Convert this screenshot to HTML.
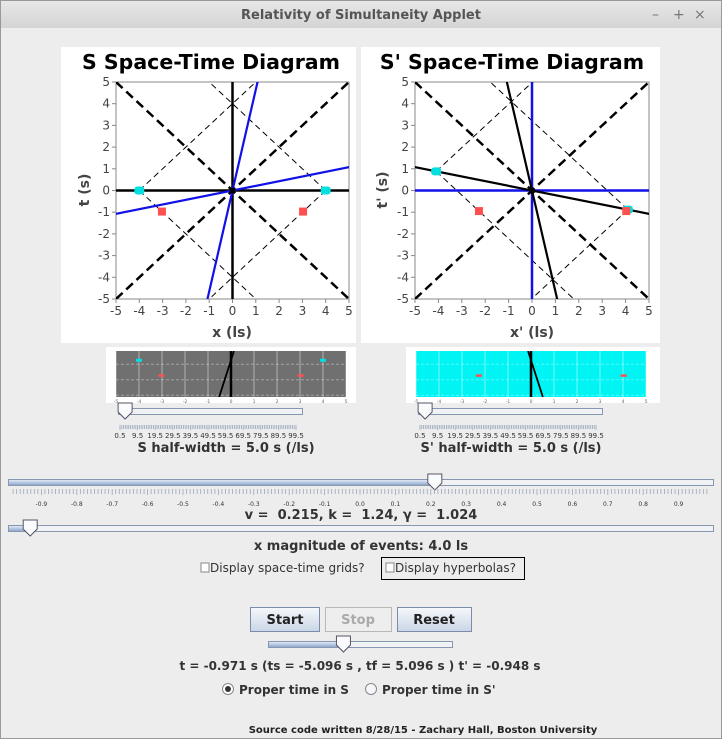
<!DOCTYPE html>
<html><head><meta charset="utf-8">
<style>
html,body{margin:0;padding:0;background:#ededed;}
svg{display:block;font-family:"DejaVu Sans","Liberation Sans",sans-serif;}
</style></head>
<body>
<svg id="root" width="722" height="739" viewBox="0 0 722 739" xmlns="http://www.w3.org/2000/svg">
<defs>
<linearGradient id="tb" x1="0" y1="0" x2="0" y2="1"><stop offset="0" stop-color="#e8e8e8"/><stop offset="1" stop-color="#d4d4d4"/></linearGradient>
<linearGradient id="btn" x1="0" y1="0" x2="0" y2="1"><stop offset="0" stop-color="#f6f8fb"/><stop offset="1" stop-color="#c9d6e6"/></linearGradient>
<linearGradient id="fill" x1="0" y1="0" x2="0" y2="1"><stop offset="0" stop-color="#dfe8f4"/><stop offset="1" stop-color="#90a8cc"/></linearGradient>
<clipPath id="clipS"><rect x="116" y="82" width="233" height="217"/></clipPath>
<clipPath id="clipP"><rect x="415" y="82" width="234" height="217"/></clipPath>
<clipPath id="clipTS"><rect x="116" y="351" width="230" height="46"/></clipPath>
<clipPath id="clipTP"><rect x="416" y="351" width="230" height="46"/></clipPath>
</defs>
<rect x="0" y="0" width="722" height="739" fill="#ededed"/>
<rect x="0" y="0" width="722" height="28" fill="url(#tb)"/>
<text x="361" y="19" text-anchor="middle" font-size="13" font-weight="bold" fill="#555">Relativity of Simultaneity Applet</text>
<text x="652" y="19" font-size="14" fill="#777">–</text>
<text x="673" y="19" font-size="14" fill="#777">+</text>
<text x="694" y="19" font-size="14" fill="#777">×</text>
<rect x="0.5" y="0.5" width="721" height="738" fill="none" stroke="#999"/>

<rect x="61" y="47" width="295" height="296" fill="#fff"/>
<rect x="361" y="47" width="299" height="296" fill="#fff"/>
<text x="211" y="69" text-anchor="middle" font-size="20.5" font-weight="bold" fill="#000">S Space-Time Diagram</text>
<text x="512" y="69" text-anchor="middle" font-size="20.5" font-weight="bold" fill="#000">S' Space-Time Diagram</text>
<text x="232" y="337" text-anchor="middle" font-size="14" font-weight="bold" fill="#444">x (ls)</text>
<text x="532" y="337" text-anchor="middle" font-size="14" font-weight="bold" fill="#444">x' (ls)</text>
<text transform="translate(89,190) rotate(-90)" text-anchor="middle" font-size="14" font-weight="bold" fill="#444">t (s)</text>
<text transform="translate(387,190) rotate(-90)" text-anchor="middle" font-size="14" font-weight="bold" fill="#444">t' (s)</text>
<g id="chartS"></g>
<g id="chartP"></g>

<rect x="106" y="347" width="250" height="56" fill="#fff"/>
<rect x="406" y="347" width="254" height="56" fill="#fff"/>
<g id="thumbS"></g>
<g id="thumbP"></g>

<g id="sliders"></g>

<text x="226" y="452" text-anchor="middle" font-size="13" font-weight="bold" fill="#333">S half-width = 5.0 s (/ls)</text>
<text x="511" y="452" text-anchor="middle" font-size="13" font-weight="bold" fill="#333">S' half-width = 5.0 s (/ls)</text>
<text x="361" y="519" text-anchor="middle" font-size="13" font-weight="bold" fill="#333" xml:space="preserve">v =  0.215, k =  1.24, γ =  1.024</text>
<text x="361" y="550" text-anchor="middle" font-size="13" font-weight="bold" fill="#333">x magnitude of events: 4.0 ls</text>

<g>
<rect x="201" y="563" width="8" height="9" fill="#fff" stroke="#888"/>
<text x="210" y="572" font-size="12" fill="#333">Display space-time grids?</text></g>
<g>
<rect x="381.5" y="557.5" width="143" height="22" fill="none" stroke="#000"/>
<rect x="386" y="563" width="8" height="9" fill="#fff" stroke="#888"/>
<text x="395" y="572" font-size="12" fill="#333">Display hyperbolas?</text></g>

<g><rect x="250.5" y="607.5" width="69" height="24" fill="url(#btn)" stroke="#7a8ca8"/><text x="285" y="624" text-anchor="middle" font-size="13" font-weight="bold" fill="#222">Start</text></g>
<g><rect x="325.5" y="607.5" width="66" height="24" fill="#eeeeee" stroke="#b8b8b8"/><text x="358" y="624" text-anchor="middle" font-size="13" font-weight="bold" fill="#aaa">Stop</text></g>
<g><rect x="397.5" y="607.5" width="74" height="24" fill="url(#btn)" stroke="#7a8ca8"/><text x="434" y="624" text-anchor="middle" font-size="13" font-weight="bold" fill="#222">Reset</text></g>

<text x="360" y="670" text-anchor="middle" font-size="12" font-weight="bold" fill="#333">t = -0.971 s (ts = -5.096 s , tf = 5.096 s ) t' = -0.948 s</text>
<g><circle cx="228" cy="689" r="5.5" fill="#fff" stroke="#888"/><circle cx="228" cy="689" r="3" fill="#333"/><text x="239" y="694" font-size="12" font-weight="bold" fill="#333">Proper time in S</text></g>
<g><circle cx="371" cy="689" r="5.5" fill="#f4f6fa" stroke="#888"/><text x="382" y="694" font-size="12" font-weight="bold" fill="#333">Proper time in S'</text></g>
<text x="423" y="733" text-anchor="middle" font-size="10" font-weight="bold" fill="#222">Source code written 8/28/15 - Zachary Hall, Boston University</text>
</svg>
<script>
// ---- data ----
const tickValues = [-5,-4,-3,-2,-1,0,1,2,3,4,5];
const velocity = 0.215;
const eventX = [-4, 4];
const eventT = [0, 0];
const currentT = -0.971;
const currentTPrime = -0.948;
const vTickLabels = ["-0.9","-0.8","-0.7","-0.6","-0.5","-0.4","-0.3","-0.2","-0.1","0.0","0.1","0.2","0.3","0.4","0.5","0.6","0.7","0.8","0.9"];
const halfWidthLabels = ["0.5","9.5","19.5","29.5","39.5","49.5","59.5","69.5","79.5","89.5","99.5"];
const halfWidthValue = 5.0;
const xMagnitude = 4.0;
const animFraction = 0.41;

const NS = "http://www.w3.org/2000/svg";
function mk(parent, tag, attrs){const e=document.createElementNS(NS,tag);for(const k in attrs)e.setAttribute(k,attrs[k]);parent.appendChild(e);return e;}
const gamma = 1/Math.sqrt(1-velocity*velocity);

function drawDiagram(g, x0, x1, y0, y1, clip, boost, lineVel, axisColor, frameColor, tNow){
  const sx = x => x0 + (x+5)*(x1-x0)/10;
  const sy = t => y1 - (t+5)*(y1-y0)/10;
  const gm = 1/Math.sqrt(1-boost*boost);
  const ex = eventX.map((x,i)=>gm*(x-boost*eventT[i]));
  const et = eventT.map((t,i)=>gm*(t-boost*eventX[i]));
  const ln = (xa,ta,xb,tb,st)=>mk(g,'line',Object.assign({x1:sx(xa),y1:sy(ta),x2:sx(xb),y2:sy(tb),'clip-path':'url(#'+clip+')'},st));
  const fr = mk(g,'rect',{x:x0,y:y0,width:x1-x0,height:y1-y0,fill:'#fff',stroke:'#888'});
   
  tickValues.forEach(v=>{
    const a=mk(g,'line',{x1:sx(v),y1:y1,x2:sx(v),y2:y1+4,stroke:'#888'});
     
    const b=mk(g,'line',{x1:x0-4,y1:sy(v),x2:x0,y2:sy(v),stroke:'#888'});
     
    const tx=mk(g,'text',{x:sx(v),y:y1+16,'text-anchor':'middle','font-size':12,fill:'#444'}); tx.textContent=v;
     
    const ty=mk(g,'text',{x:x0-6,y:sy(v)+4,'text-anchor':'end','font-size':12,fill:'#444'}); ty.textContent=v;
     
  });
  let l=ln(-5,-5,5,5,{stroke:'#000','stroke-width':2.5,'stroke-dasharray':'9,5'});  
  l=ln(-5,5,5,-5,{stroke:'#000','stroke-width':2.5,'stroke-dasharray':'9,5'});  
  ex.forEach((x,i)=>{
    const t=et[i], d = x<0?1:-1;
    let r=ln(x,t,x+d*12,t+12,{stroke:'#000','stroke-width':1,'stroke-dasharray':'6,4'});  
    r=ln(x,t,x+d*12,t-12,{stroke:'#000','stroke-width':1,'stroke-dasharray':'6,4'});  
  });
  l=ln(-5,0,5,0,{stroke:axisColor,'stroke-width':2.5});  
  l=ln(0,-5,0,5,{stroke:axisColor,'stroke-width':2.5});  
  l=ln(-8*lineVel,-8,8*lineVel,8,{stroke:frameColor,'stroke-width':2.2});  
  l=ln(-8,-8*lineVel,8,8*lineVel,{stroke:frameColor,'stroke-width':2.2});  
  ex.forEach((x,i)=>{
    const c=mk(g,'rect',{x:sx(x)-5,y:sy(et[i])-4,width:10,height:8,rx:3,fill:'#00e0e0'});
     
    const d = x<0?1:-1;
    const px = x + d*Math.abs(tNow-et[i]);
    const r=mk(g,'rect',{x:sx(px)-4,y:sy(tNow)-4,width:8,height:8,fill:'#ff5050'});
     
  });
  const o=mk(g,'circle',{cx:sx(0),cy:sy(0),r:3,fill:'#000'});  
}
drawDiagram(document.getElementById('chartS'),116,349,82,299,'clipS',0,velocity,'#000','#1010e8',currentT);
drawDiagram(document.getElementById('chartP'),415,649,82,299,'clipP',velocity,-velocity,'#1010e8','#000',currentTPrime);

function drawThumb(g, x0, x1, y0, y1, clip, bg, boost, lineVel, tNow, showEvents){
  const sx = x => x0 + (x+5)*(x1-x0)/10;
  const sy = t => y0 + (0.6 - t)*15.5;
  const r=mk(g,'rect',{x:x0,y:y0,width:x1-x0,height:y1-y0,fill:bg});  
  tickValues.forEach(v=>{
    const gl=mk(g,'line',{x1:sx(v),y1:y0,x2:sx(v),y2:y1,stroke:'#fff','stroke-opacity':0.45,'stroke-width':1});  
    const tl=mk(g,'text',{x:sx(v),y:y1+6,'text-anchor':'middle','font-size':4.5,fill:'#666'}); tl.textContent=v;
     
  });
  [0,-1,-2].forEach(t=>{const gl=mk(g,'line',{x1:x0,y1:sy(t)+4,x2:x1,y2:sy(t)+4,stroke:'#fff','stroke-opacity':0.35,'stroke-dasharray':'3,2'});});
  const gm = 1/Math.sqrt(1-boost*boost);
  const ex = eventX.map((x,i)=>gm*(x-boost*eventT[i]));
  const et = eventT.map((t,i)=>gm*(t-boost*eventX[i]));
  let l=mk(g,'line',{x1:sx(0),y1:y0,x2:sx(0),y2:y1,stroke:'#000','stroke-width':2.5});  
  l=mk(g,'line',{x1:sx(lineVel*0.6),y1:y0,x2:sx(lineVel*-2.4),y2:y1,stroke:'#000','stroke-width':1.8,'clip-path':'url(#'+clip+')'});
   
  ex.forEach((x,i)=>{
    if(showEvents){const c=mk(g,'rect',{x:sx(x)-3,y:sy(et[i])-1.5,width:6,height:3,fill:'#00e0e0'});}
    const d=x<0?1:-1;const px=x+d*Math.abs(tNow-et[i]);
    const rr=mk(g,'rect',{x:sx(px)-3,y:sy(-0.971)-1,width:6,height:2.5,fill:'#ff5050'});
  });
}
drawThumb(document.getElementById('thumbS'),116,346,351,397,'clipTS','#707070',0,velocity,currentT,true);
drawThumb(document.getElementById('thumbP'),416,646,351,397,'clipTP','#00f4f4',velocity,-velocity,currentTPrime,false);

const S=document.getElementById('sliders');
function slider(name,x0,x1,y,frac){
  const g=mk(S,'g',{});
  
  
  mk(g,'rect',{x:x0+0.5,y:y-2.5,width:x1-x0,height:6,fill:'#f0f2f5',stroke:'#8897b0'});
  const tx=x0+frac*(x1-x0);
  mk(g,'rect',{x:x0+1,y:y-2,width:tx-x0,height:5,fill:'url(#fill)'});
  mk(g,'path',{d:`M${tx-7},${y-8} h14 v9 l-7,7 l-7,-7 z`,fill:'#fafbfc',stroke:'#556'});
}
function ticks(x0,x1,y,n,major,labels,fs,col){
  const g=mk(S,'g',{});
  
  
  for(let i=0;i<=n;i++){const x=x0+i*(x1-x0)/n;mk(g,'line',{x1:x,y1:y,x2:x,y2:y+(i%major===0?5:4),stroke:'#9aa6bb','stroke-width':0.8});}
  labels.forEach((t,i)=>{const x=x0+(i*major)*(x1-x0)/n;const e=mk(g,'text',{x:x,y:y+13,'text-anchor':'middle','font-size':fs,fill:'#333'});e.textContent=t;});
}
slider('s-half-width-slider',118,302,411,(halfWidthValue-0.5)/99*0.3+0.025);
ticks(120,296,425,100,10,halfWidthLabels,7,'#333');
slider('sprime-half-width-slider',418,602,411,(halfWidthValue-0.5)/99*0.3+0.025);
ticks(420,596,425,100,10,halfWidthLabels,7,'#333');
slider('velocity-slider',8,713,482,(velocity+1)/2*0.99+0.004);
(function(){
  const g=mk(S,'g',{});
  
  
  const c=360, k=354;
  for(let i=-98;i<=98;i++){const x=c+i/100*k;mk(g,'line',{x1:x,y1:489,x2:x,y2:i%10===0?495:494,stroke:'#9aa6bb','stroke-width':0.8});}
  vTickLabels.forEach(t=>{const e=mk(g,'text',{x:c+parseFloat(t)*k,y:506,'text-anchor':'middle','font-size':6,fill:'#333'});e.textContent=t;});
})();
slider('x-magnitude-slider',8,713,528,(xMagnitude-0.5)/100*0.9);
slider('animation-time-slider',268,452,644,animFraction);
</script>
</body></html>
